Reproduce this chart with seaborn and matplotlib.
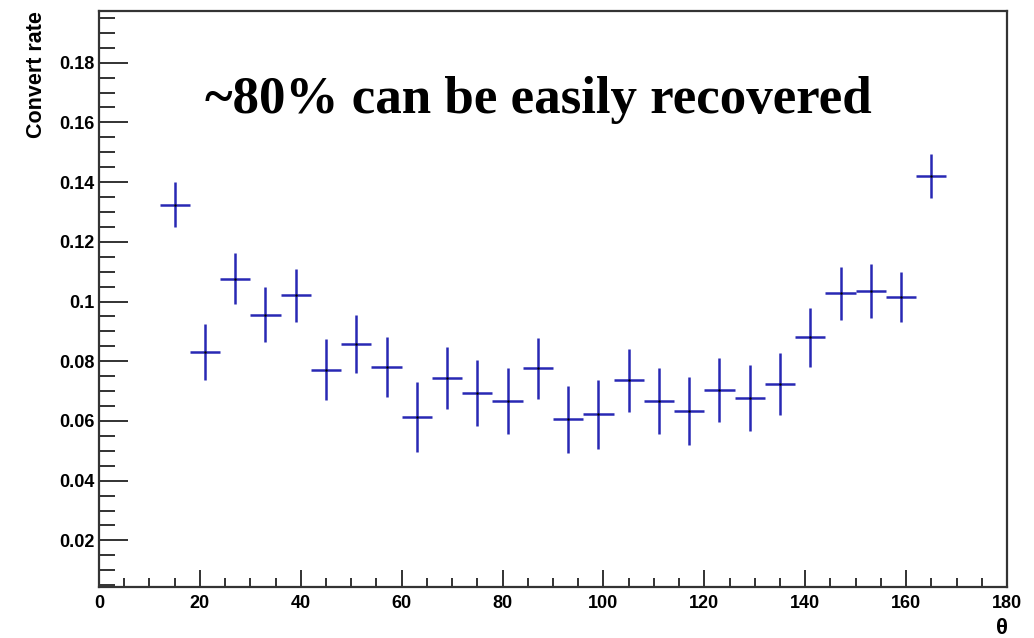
import numpy as np
import pandas as pd
import matplotlib
matplotlib.use("Agg")
import matplotlib.pyplot as plt
from matplotlib.ticker import MultipleLocator, FuncFormatter
import seaborn as sns

# ---- data ----
theta = [15, 21, 27, 33, 39, 45, 51, 57, 63, 69, 75, 81, 87,
         93, 99, 105, 111, 117, 123, 129, 135, 141, 147, 153, 159, 165]
rate = [0.1324, 0.0832, 0.1076, 0.0956, 0.1021, 0.0771, 0.0858, 0.0781,
        0.0613, 0.0744, 0.0694, 0.0667, 0.0776, 0.0605, 0.0622, 0.0736,
        0.0666, 0.0633, 0.0704, 0.0678, 0.0723, 0.0881, 0.1027, 0.1036,
        0.1015, 0.1421]
rate_err = [0.0075, 0.0094, 0.0085, 0.0093, 0.0088, 0.0102, 0.0098, 0.0100,
            0.0116, 0.0103, 0.0111, 0.0111, 0.0101, 0.0113, 0.0115, 0.0105,
            0.0111, 0.0115, 0.0106, 0.0111, 0.0103, 0.0099, 0.0088, 0.0090,
            0.0085, 0.0073]
bin_half_width = [3.0] * len(theta)

x_label = "θ"
y_label = "Convert rate"
annotation = "~80% can be easily recovered"

df = pd.DataFrame({"theta": theta, "rate": rate, "err": rate_err, "xerr": bin_half_width})

sns.set_theme(style="ticks")
plt.rcParams["font.family"] = ["Liberation Sans", "DejaVu Sans"]
plt.rcParams["text.color"] = "black"

fig = plt.figure(figsize=(10.34, 6.38), dpi=100)
ax = fig.add_axes([99 / 1034, 1 - 586.7 / 638, (1007 - 99) / 1034, (586.7 - 11) / 638])

blue = "#2828b4"
ax.errorbar(df["theta"], df["rate"], yerr=df["err"], xerr=df["xerr"],
            fmt="none", ecolor=blue, elinewidth=1.8, capsize=0)
sns.scatterplot(data=df, x="theta", y="rate", ax=ax, color="black",
                marker="o", s=3, linewidth=0, zorder=3, legend=False)

ax.set_xlim(0, 180)
ax.set_ylim(0.0045, 0.1973)

ax.xaxis.set_major_locator(MultipleLocator(20))
ax.xaxis.set_minor_locator(MultipleLocator(5))
ax.yaxis.set_major_locator(MultipleLocator(0.02))
ax.yaxis.set_minor_locator(MultipleLocator(0.005))
ax.yaxis.set_major_formatter(FuncFormatter(lambda v, p: ("%g" % round(v, 4)) if v > 0.001 else ""))
ax.xaxis.set_major_formatter(FuncFormatter(lambda v, p: "%g" % v))

ax.tick_params(axis="both", which="both", direction="in", colors="#222222",
               width=1.3, labelsize=13, labelcolor="black")
ax.tick_params(axis="x", which="major", length=12, pad=6)
ax.tick_params(axis="x", which="minor", length=6.5)
ax.tick_params(axis="y", which="major", length=21, pad=3)
ax.tick_params(axis="y", which="minor", length=11.5)
for lab in ax.get_xticklabels() + ax.get_yticklabels():
    lab.set_fontweight("bold")

for s in ax.spines.values():
    s.set_visible(True)
    s.set_color("#333333")
    s.set_linewidth(1.6)

ax.set_xlabel("")
ax.set_ylabel("")
fig.text(37 / 1034, 1 - 11 / 638, y_label, rotation=90, ha="center", va="top",
         fontsize=15.5, fontweight="bold", color="black")
fig.text(1008 / 1034, 1 - 628 / 638, x_label, ha="right", va="center",
         fontsize=16, fontweight="bold", color="black")

fig.text(205 / 1034, 1 - 113.3 / 638, annotation, ha="left", va="baseline",
         fontsize=38.2, fontweight="bold", color="black",
         family=["Liberation Serif", "DejaVu Serif"])

fig.savefig("out.png", dpi=100)
